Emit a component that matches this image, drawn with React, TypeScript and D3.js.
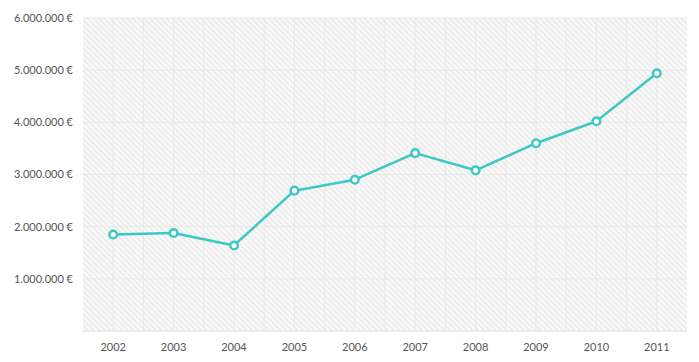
import React, { useRef, useEffect } from "react";
import * as d3 from "d3";

const years = ["2002", "2003", "2004", "2005", "2006", "2007", "2008", "2009", "2010", "2011"];
const revenue = [1850000, 1880000, 1640000, 2690000, 2900000, 3410000, 3080000, 3600000, 4020000, 4940000];
const yTicks = [1000000, 2000000, 3000000, 4000000, 5000000, 6000000];

const width = 699;
const height = 362;
const marginTop = 18;
const marginRight = 12;
const marginBottom = 31;
const marginLeft = 83;

const fmt = (v: number) => d3.format(",")(v).replace(/,/g, ".") + " €";

const App = () => {
  const svgRef = useRef<SVGSVGElement | null>(null);

  useEffect(() => {
    const svg = d3.select(svgRef.current);
    svg.selectAll("*").remove();

    const x = d3.scaleBand()
      .domain(years)
      .range([marginLeft, width - marginRight]);

    const y = d3.scaleLinear()
      .domain([0, 6000000])
      .range([height - marginBottom, marginTop]);

    // hatched background, lines running top-left to bottom-right
    const defs = svg.append("defs");
    const pat = defs.append("pattern")
      .attr("id", "hatch")
      .attr("patternUnits", "userSpaceOnUse")
      .attr("width", 4)
      .attr("height", 4)
      .attr("patternTransform", "rotate(-45)");
    pat.append("rect").attr("width", 4).attr("height", 4).attr("fill", "#fafafa");
    pat.append("rect").attr("width", 1.4).attr("height", 4).attr("fill", "#e8e8e8");

    svg.append("rect")
      .attr("x", marginLeft)
      .attr("y", marginTop)
      .attr("width", width - marginRight - marginLeft)
      .attr("height", height - marginBottom - marginTop)
      .attr("fill", "url(#hatch)");

    // vertical grid: category centers and boundaries
    const vLines: number[] = [];
    years.forEach((d, i) => {
      if (i > 0) vLines.push(x(d)!);
      vLines.push(x(d)! + x.bandwidth() / 2);
    });
    svg.append("g")
      .selectAll("line")
      .data(vLines)
      .join("line")
      .attr("x1", d => d)
      .attr("x2", d => d)
      .attr("y1", marginTop)
      .attr("y2", height - marginBottom)
      .attr("stroke", "#e8e8e8")
      .attr("stroke-width", 1);

    // horizontal grid
    svg.append("g")
      .selectAll("line")
      .data(yTicks)
      .join("line")
      .attr("x1", marginLeft)
      .attr("x2", width - marginRight)
      .attr("y1", d => y(d))
      .attr("y2", d => y(d))
      .attr("stroke", "#e8e8e8")
      .attr("stroke-width", 1);

    svg.append("line")
      .attr("x1", marginLeft)
      .attr("x2", width - marginRight)
      .attr("y1", y(0))
      .attr("y2", y(0))
      .attr("stroke", "#dedede");

    // y labels
    svg.append("g")
      .selectAll("text")
      .data(yTicks)
      .join("text")
      .attr("x", marginLeft - 10)
      .attr("y", d => y(d))
      .attr("dy", "0.35em")
      .attr("text-anchor", "end")
      .attr("font-family", "Lato, 'Open Sans', sans-serif")
      .attr("font-size", 11)
      .attr("fill", "#555")
      .text(d => fmt(d));

    // x labels
    svg.append("g")
      .selectAll("text")
      .data(years)
      .join("text")
      .attr("x", d => x(d)! + x.bandwidth() / 2)
      .attr("y", height - marginBottom + 16)
      .attr("dy", "0.35em")
      .attr("text-anchor", "middle")
      .attr("font-family", "Lato, 'Open Sans', sans-serif")
      .attr("font-size", 11)
      .attr("fill", "#555")
      .text(d => d);

    const line = d3.line<number>()
      .x((_, i) => x(years[i])! + x.bandwidth() / 2)
      .y(d => y(d));

    svg.append("path")
      .datum(revenue)
      .attr("d", line)
      .attr("fill", "none")
      .attr("stroke", "#3cc8c4")
      .attr("stroke-width", 2.5)
      .attr("stroke-linejoin", "round");

    svg.append("g")
      .selectAll("circle")
      .data(revenue)
      .join("circle")
      .attr("cx", (_, i) => x(years[i])! + x.bandwidth() / 2)
      .attr("cy", d => y(d))
      .attr("r", 3.8)
      .attr("fill", "#fff")
      .attr("stroke", "#3cc8c4")
      .attr("stroke-width", 2.5);
  }, []);

  return (
    <svg
      ref={svgRef}
      width={width}
      height={height}
      style={{ position: "absolute", left: 0, top: 0, background: "#fff" }}
    />
  );
};

export default App;
